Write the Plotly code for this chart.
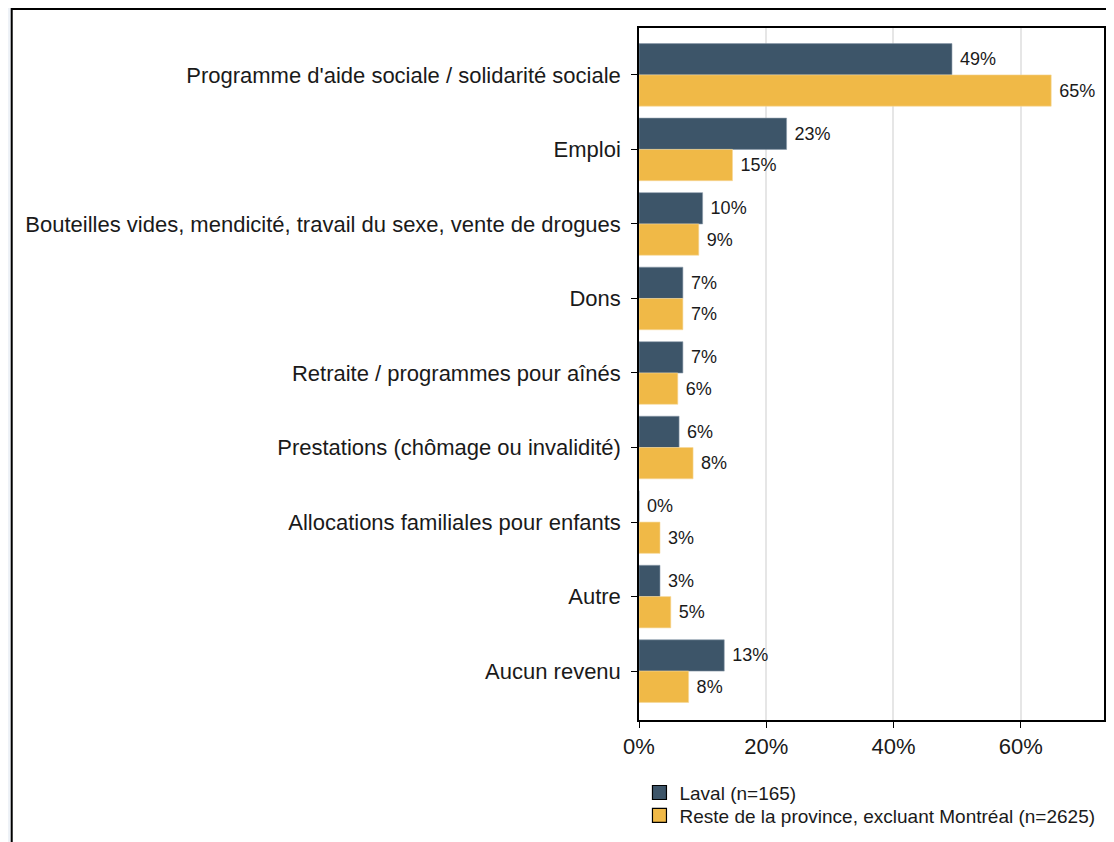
import plotly.graph_objects as go

categories = [
    "Programme d'aide sociale / solidarité sociale",
    "Emploi",
    "Bouteilles vides, mendicité, travail du sexe, vente de drogues",
    "Dons",
    "Retraite / programmes pour aînés",
    "Prestations (chômage ou invalidité)",
    "Allocations familiales pour enfants",
    "Autre",
    "Aucun revenu",
]
laval = [49.2, 23.2, 10.0, 6.9, 6.9, 6.3, 0.0, 3.3, 13.4]
reste = [64.8, 14.7, 9.4, 6.9, 6.1, 8.5, 3.3, 5.0, 7.8]
laval_name = "Laval (n=165)"
reste_name = "Reste de la province, excluant Montréal (n=2625)"
x_ticks = [0, 20, 40, 60]
x_ticktext = ["0%", "20%", "40%", "60%"]

DARK = "#3D5569"
GOLD = "#F0B947"
FONT = "Liberation Sans, Arial, sans-serif"

fig = go.Figure()
fig.add_bar(
    y=categories, x=laval, orientation="h", name=laval_name, showlegend=False,
    marker=dict(color=DARK, line=dict(color="#8A9AAA", width=0.6)),
    text=[f" {round(v)}%" for v in laval], textposition="outside",
    textfont=dict(size=18, color="#1A1A1A"), cliponaxis=False,
)
fig.add_bar(
    y=categories, x=reste, orientation="h", name=reste_name, showlegend=False,
    marker=dict(color=GOLD, line=dict(color="#F6D89A", width=0.6)),
    text=[f" {round(v)}%" for v in reste], textposition="outside",
    textfont=dict(size=18, color="#1A1A1A"), cliponaxis=False,
)

# legend entries with black-outlined squares, one legend box per row
for name, col, lg in [(laval_name, DARK, "legend"), (reste_name, GOLD, "legend2")]:
    fig.add_scatter(
        x=[None], y=[None], mode="markers", name=name, legend=lg,
        marker=dict(symbol="square", size=14, color=col, line=dict(color="black", width=1.2)),
    )

# outer white frame with black border
fig.add_shape(
    type="rect", xref="paper", yref="paper",
    x0=-1.349, x1=2.0, y0=-1.0, y1=1.0274,
    fillcolor="white", line=dict(color="black", width=2), layer="below",
)

_legend = dict(
    x=0.001, xanchor="left", yanchor="middle",
    font=dict(size=19), bgcolor="rgba(0,0,0,0)", itemwidth=30,
)

fig.update_layout(
    width=1106, height=834,
    font=dict(family=FONT, size=18, color="#1A1A1A"),
    paper_bgcolor="#EEF2F7", plot_bgcolor="white",
    margin=dict(l=631, r=8, t=20, b=120),
    barmode="group", bargap=0.16, bargroupgap=0.0,
    showlegend=True,
    legend=dict(_legend, y=-0.105),
    legend2=dict(_legend, y=-0.138),
    xaxis=dict(
        range=[0, 73.1], tickmode="array", tickvals=x_ticks, ticktext=x_ticktext,
        showgrid=True, gridcolor="#E6E6E6", gridwidth=1.5,
        showline=True, linecolor="black", linewidth=1.5, mirror=True,
        ticks="outside", ticklen=6, tickcolor="black",
        tickfont=dict(size=22), zeroline=False,
    ),
    yaxis=dict(
        range=[8.656, -0.629],
        showline=True, linecolor="black", linewidth=1.5, mirror=True,
        ticks="outside", ticklen=6, tickcolor="black", ticklabelstandoff=6,
        tickfont=dict(size=22), showgrid=False,
    ),
)

fig.write_html("out.html")
